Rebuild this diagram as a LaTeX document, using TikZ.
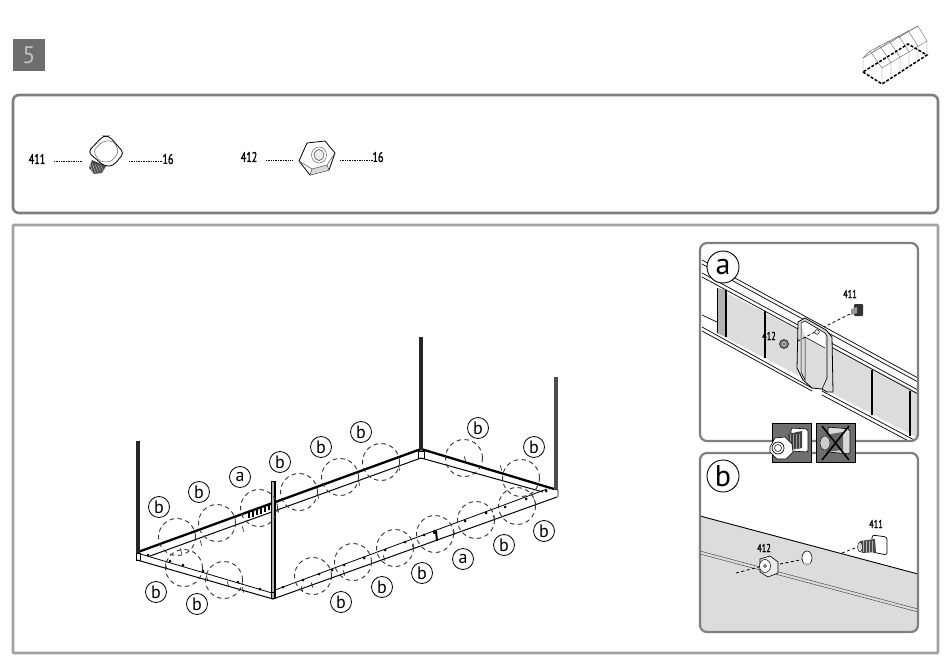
\documentclass[tikz,border=0pt]{standalone}
\usepackage{fontspec}
\setmainfont{PT Sans}
\newfontfamily\partfont[FakeStretch=0.72,FakeBold=1.2]{PT Sans}
\usetikzlibrary{calc}
\definecolor{stepgray}{HTML}{6E6E6E}
\definecolor{framedark}{HTML}{7F7F7F}
\definecolor{framelight}{HTML}{A2A2A2}
\definecolor{panelgray}{HTML}{DCDCDC}
\tikzset{
  part/.style={font=\partfont\fontsize{14}{14}\selectfont, inner sep=0pt, text=black},
  partsmall/.style={font=\partfont\fontsize{11.5}{12}\selectfont, inner sep=0pt, text=black},
  dots/.style={line width=0.5pt, dash pattern=on 1pt off 0.7pt},
  hintline/.style={line width=0.8pt, dash pattern=on 3pt off 2.5pt},
  zone/.style={circle, draw=black!80, line width=0.9pt, dash pattern=on 4.5pt off 3.5pt, minimum size=37pt, inner sep=0pt},
  tag/.style={circle, draw=black, line width=0.8pt, minimum size=21pt, inner sep=0pt, font=\fontsize{18}{18}\selectfont},
  bigtag/.style={circle, draw=black, line width=0.9pt, fill=white, minimum size=32pt, inner sep=0pt, font=\fontsize{30}{30}\selectfont},
  panelone/.style={draw=framedark, line width=2.6pt, rounded corners=6pt},
  paneltwo/.style={draw=framelight, line width=2.6pt, rounded corners=1pt},
  inset/.style={draw=framedark, line width=2.2pt, rounded corners=7pt},
  railthick/.style={line width=2.3pt, black},
  railthin/.style={line width=1pt, black},
  post/.style={line width=3.2pt, black!85},
  thumb/.style={line width=0.4pt, black!60},
  thumbbase/.style={line width=1.5pt, black, dash pattern=on 3pt off 1.6pt},
  pics/boltpart/.style={code={
    \fill[black!70] (-14,7) -- (0,13) -- (-4,20) -- (-12,21) -- (-17,15) -- cycle;
    \foreach \t in {0,...,4}{\draw[white!75!black, line width=0.5pt] (-16+\t*2.6,11+\t*0.3) -- (-13+\t*2.6,21-\t*0.8);}
    \draw[black, line width=0.8pt, fill=white, rounded corners=4pt] (-18,-1) -- (-3,-17) -- (3,-17) -- (18,0) -- (7,13) -- (-2,13) -- cycle;
    \draw[black!60, line width=0.5pt, rounded corners=4pt] (-13,-2) -- (-3,-12) -- (8,-12) -- (13,-1) -- (5,9) -- (-6,9) -- cycle;
  }},
  pics/nutpart/.style={code={
    \draw[black, line width=0.8pt, fill=white] (-10,-15) -- (8,-17) -- (18,-5) -- (12,12) -- (-7,17) -- (-18,3) -- cycle;
    \fill[black!15] (-7,17) -- (12,12) -- (10,7) -- (-5,11) -- cycle;
    \draw[black!70, line width=0.5pt] (-18,3) -- (-5,11) -- (10,7) -- (18,-5) (-5,11) -- (-7,17) (10,7) -- (12,12);
    \draw[black!60, line width=0.5pt] (2,-3) ellipse (7.5 and 8);
    \draw[black!60, line width=0.7pt, fill=white!92!black] (2,-3) ellipse (5 and 5.5);
  }},
}
\begin{document}
\begin{tikzpicture}[x=1pt,y=-1pt]
\useasboundingbox (0,0) rectangle (950,668);
\fill[white] (0,0) rectangle (950,668);

% step badge
\node[fill=stepgray, minimum size=32pt, inner sep=0pt, text=white!75!black, font=\fontsize{24}{24}\selectfont] (stepno) at (29,55) {5};

% frames
\draw[panelone] (13,95) rectangle (938,213);
\draw[paneltwo] (13,225) rectangle (938,653);

% thumbnail greenhouse
\foreach \i in {0,...,5}{
  \draw[thumb] ($(863,58)!\i/5!(908,32)$) -- ($(870,51)!\i/5!(918,26)$) -- ($(882,68)!\i/5!(927,41)$) -- ($(882,84)!\i/5!(927,55)$);
}
\draw[thumb] (863,58) -- (863,72) (863,58) -- (908,32);
\draw[thumb] (870,51) -- (918,26);
\draw[thumb] (882,68) -- (927,41);
\draw[thumbbase] (863,72) -- (882,84) -- (927,55) -- (908,44) -- cycle;

% parts row
\node[part] (p411) at (37,159) {411};
\draw[dots] (54,161) -- (82,161);
\pic at (106,153) {boltpart};
\draw[dots] (129,161) -- (162,161);
\node[part] (q411) at (168,159) {16};
\node[part] (p412) at (249,157) {412};
\draw[dots] (266,160) -- (293,160);
\pic at (317,158) {nutpart};
\draw[dots] (340,160) -- (373,160);
\node[part] (q412) at (378,157) {16};

% ---- main frame: rails and posts
\draw[railthick] (138,552) -- (421,449);
\draw[railthin] (150,556) -- (421,458);
\draw[railthick] (421,449) -- (554,489);
\draw[railthin] (421,458) -- (543,492);
\draw[railthin] (137,560) -- (273,599) -- (557,497);
\draw[line width=0.8pt] (137,553) -- (272,593);
\draw[line width=0.8pt] (275,590) -- (547,489);
\draw[line width=0.8pt] (136,553) rectangle (140,560);
\draw[line width=0.8pt] (418,451) rectangle (424,458);
\draw[line width=0.8pt] (554,489) -- (558,490) -- (558,497);

\draw[post] (138,441) -- (138,553);
\draw[post] (421,337) -- (421,450);
\draw[post, black!70, line width=3.6pt] (556,377) -- (556,489);
\draw[black, line width=5pt] (273,481) -- (273,599);
\draw[white!70!black, line width=2.6pt] (273,482) -- (273,598);
\draw[line width=0.6pt] (271,592) -- (275,592);

% bracket detail a on back rail
\foreach \x/\y in {249/514,253/513,257/511,261/510,265/508,269/506}{
  \draw[line width=1.3pt] (\x,\y-2) -- (\x,\y+4);
}

% fixing dots and ticks
\foreach \x/\y in {148/555,170/561,183/565,203/571,238/582,260/589,283/587,303/580,319/574,332/570,344/565,364/558,385/550,405/542,424/535,465/521,486/513,505/507,526/499,546/491}{
  \fill (\x,\y) circle (1.5);
}
\foreach \x/\y in {166/566,207/578,228/584,243/590,302/589,312/585,344/573,384/558,413/547,454/532,494/518,535/502,181/551,201/543,243/529,278/510,318/496,359/483,399/468,465/459,501/468}{
  \draw[line width=0.6pt] (\x-0.6,\y-2.5) -- (\x+0.6,\y+2.5);
}
\draw[line width=2pt] (436,531) -- (437,541);
\fill (435,532) circle (2.2);

% dashed zones
\foreach \n/\x/\y in {za/177/537,zb/217/523,zc/259/508,zd/299/492,ze/340/477,zf/381/462,zg/464/458,zh/521/478,zi/184/568,zj/224/580,zk/313/576,zl/353/562,zm/395/548,zn/435/534,zo/476/520,zp/517/506}{
  \node[zone] (\n) at (\x,\y) {};
}

% letter tags
\foreach \n/\x/\y/\t in {ta/159/507/b,tb/199/492/b,tc/240/477/a,td/280/462/b,te/321/447/b,tf/361/432/b,tg/478/428/b,th/534/447/b,ti/544/531/b,tj/504/545/b,tk/463/559/a,tl/422/573/b,tm/382/587/b,tn/341/602/b,to/197/604/b,tp/156/592/b}{
  \node[tag] (\n) at (\x,\y) {\t};
}

% ---- inset a
\begin{scope}
\clip[rounded corners=7pt] (700,243) rectangle (918,441);
\fill[panelgray] (717,288) -- (918,392) -- (918,438) -- (717,333) -- cycle;
\fill[black!30] (717,288) -- (726,290) -- (726,337) -- (717,333) -- cycle;
\draw[line width=0.7pt] (702,260) -- (918,378);
\draw[line width=0.7pt] (702,264) -- (918,382);
\draw[line width=0.7pt] (702,273) -- (918,390);
\draw[line width=0.7pt] (702,277) -- (918,394);
\draw[line width=0.7pt] (702,315) -- (717,322);
\draw[line width=0.7pt] (702,327) -- (812,388);
\draw[line width=0.7pt] (702,331) -- (812,391);
\draw[line width=0.7pt] (822,391) -- (918,442);
\draw[line width=0.7pt] (822,395) -- (918,446);
\draw[line width=0.8pt] (717,288) -- (717,333);
\foreach \a/\b/\c/\d in {726/290/726/337,765/311/765/358,872/370/872/415,910/391/910/436}{
  \draw[line width=1.1pt] (\a,\b) -- (\c,\d);
}
\filldraw[fill=panelgray, draw=black, line width=0.8pt] (798,322) -- (805,318) -- (826,330) -- (832,337) -- (833,392) -- (827,392) -- (822,389) -- (812,388) -- (803,380) -- (797,368) -- cycle;
\fill[white] (801,323) -- (805,321) -- (825,333) -- (825,348) -- (805,337) -- cycle;
\draw[line width=0.6pt] (801,323) -- (805,321) -- (825,333) -- (827,336) -- (827,378) -- (822,389);
\draw[line width=0.5pt] (801,323) -- (801,372) -- (805,380) -- (805,337) -- (825,348);
\end{scope}
\draw[inset] (700,243) rectangle (918,441);
\node[bigtag] (taga) at (723,267) {a};
\node[partsmall] (a411) at (850,294) {411};
\node[partsmall] (a412) at (769,336) {412};
\draw[hintline] (850,314) -- (824,327);
\draw[hintline] (815,332) -- (796,342);
\draw[line width=0.5pt, fill=white] (817,332) circle (2.3);
\filldraw[fill=black!50, draw=black, line width=0.5pt] (784,344) circle (4.5);
\draw[black!20, line width=0.5pt] (784,344) circle (2);
\fill[black!80, rounded corners=1pt] (854,304) rectangle (863,316);
\fill[black!40] (851,309) -- (857,307) -- (857,313) -- (851,315) -- cycle;

% ---- inset b
\begin{scope}
\clip[rounded corners=7pt] (700,453) rectangle (918,632);
\fill[panelgray] (700,516) -- (918,574) -- (918,632) -- (700,632) -- cycle;
\draw[line width=0.9pt] (700,516) -- (918,574);
\draw[line width=0.5pt, black!70] (700,551) -- (918,609);
\draw[line width=0.5pt, black!70] (700,554) -- (918,612);
\end{scope}
\draw[inset] (700,453) rectangle (918,632);
\node[bigtag, fill=none] (tagb) at (723,476) {b};
\node[partsmall] (b411) at (876,524) {411};
\node[partsmall] (b412) at (764,548) {412};
\draw[hintline] (736,573) -- (759,567);
\draw[hintline] (780,564) -- (805,559);
\draw[hintline] (842,553) -- (855,548);
\filldraw[fill=white, draw=black, line width=0.6pt] (807,558) ellipse (5 and 7);
\fill[black!25] (807,564) ellipse (3.5 and 1.2);
\filldraw[fill=panelgray!60, draw=black, line width=0.6pt] (760,559) -- (770,556) -- (778,562) -- (778,573) -- (768,577) -- (760,572) -- cycle;
\draw[fill=white, line width=0.5pt] (765,566) ellipse (5.5 and 6.5);
\draw[line width=0.4pt] (765,566) circle (1.5);
\draw[fill=white, line width=0.7pt, rounded corners=2.5pt] (872,535) -- (887,537) -- (887,555) -- (872,552) -- cycle;
\fill[black!70] (860,541) -- (875,539) -- (876,552) -- (862,553) -- cycle;
\foreach \x in {863,866,869,872}{\draw[white!70!black, line width=0.4pt] (\x,541) -- (\x,552);}
\draw[fill=black!15, line width=0.4pt] (860,547) ellipse (2.5 and 5);

% ---- ok / not ok badges
\fill[stepgray] (772,423) rectangle (811,462);
\draw[black, line width=0.6pt] (772,423) rectangle (811,462);
\draw[fill=white, line width=0.6pt, rounded corners=2pt] (791,428) -- (808,429) -- (808,452) -- (791,451) -- cycle;
\fill[black!75] (788,434) -- (802,431) -- (802,448) -- (790,450) -- cycle;
\foreach \x in {790,793,796,799}{\draw[white!60!black, line width=0.4pt] (\x,434) -- (\x,449);}
\draw[fill=white, draw=black, line width=0.6pt] (770,447) -- (775,438) -- (785,437) -- (792,444) -- (793,452) -- (786,459) -- (777,459) -- (770,452) -- cycle;
\draw[fill=white, line width=0.7pt] (778,448) circle (6);
\draw[line width=0.5pt] (778,448) circle (3.5);

\fill[stepgray] (816,423) rectangle (855,462);
\draw[black, line width=0.6pt] (816,423) rectangle (855,462);
\draw[fill=white!85!black, line width=0.6pt, rounded corners=2pt] (828,427) -- (850,429) -- (850,454) -- (828,452) -- cycle;
\fill[black!60] (824,435) -- (843,432) -- (843,450) -- (826,452) -- cycle;
\draw[fill=black!20, line width=0.4pt] (825,443) ellipse (5 and 7);
\draw[black, line width=1.6pt] (822,426) -- (849,460);
\draw[black, line width=1.6pt] (849,426) -- (822,460);
\end{tikzpicture}
\end{document}
